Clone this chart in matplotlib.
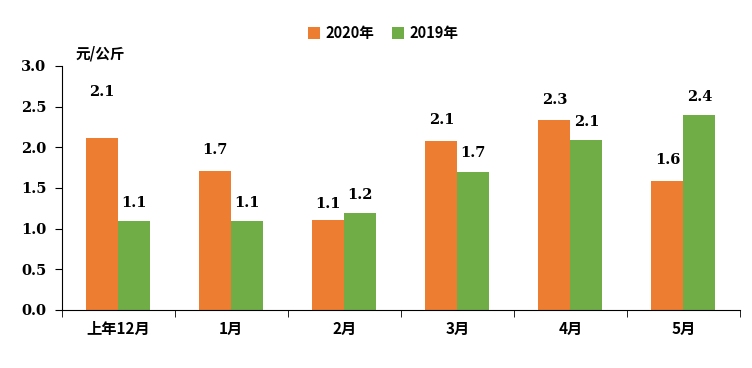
import matplotlib.pyplot as plt
import numpy as np

plt.rcParams['font.family'] = ['Noto Sans CJK SC', 'DejaVu Sans']

months = ['上年12月', '1月', '2月', '3月', '4月', '5月']
price_2020 = [2.11, 1.71, 1.11, 2.08, 2.34, 1.58]
price_2019 = [1.09, 1.09, 1.19, 1.70, 2.09, 2.39]
labels_2020 = ['2.1', '1.7', '1.1', '2.1', '2.3', '1.6']
labels_2019 = ['1.1', '1.1', '1.2', '1.7', '2.1', '2.4']

orange = '#ED7D31'
green = '#70AD47'

fig = plt.figure(figsize=(7.52, 3.68), dpi=100)
ax = fig.add_axes([0.082, 0.158, 0.902, 0.663])

x = np.arange(len(months))
w = 0.283
b1 = ax.bar(x - w/2, price_2020, w, color=orange, label='2020年')
b2 = ax.bar(x + w/2, price_2019, w, color=green, label='2019年')

numfont = dict(family='DejaVu Serif', fontsize=10.5, fontweight='bold')
# first label sits higher in the original
offs_2020 = [28, 10, 6, 10, 9, 10]
for i in range(len(months)):
    ax.annotate(labels_2020[i], (x[i] - w/2, price_2020[i]), xytext=(0, offs_2020[i]),
                textcoords='offset points', ha='center', va='bottom', **numfont)
    ax.annotate(labels_2019[i], (x[i] + w/2, price_2019[i]), xytext=(0, 8),
                textcoords='offset points', ha='center', va='bottom', **numfont)

ax.set_xlim(-0.5, len(months) - 0.5)
ax.set_ylim(0, 3.0)
ax.set_yticks(np.arange(0, 3.01, 0.5))
ax.set_yticklabels(['%.1f' % v for v in np.arange(0, 3.01, 0.5)], **numfont)
ax.set_xticks(x)
ax.set_xticklabels(months, fontsize=11, fontweight='bold')
ax.set_xticks(np.arange(-0.5, len(months)), minor=True)
ax.tick_params(axis='x', which='major', length=0, pad=8)
ax.tick_params(axis='x', which='minor', length=5, direction='out')
ax.tick_params(axis='y', length=5, direction='out', pad=6)
for s in ['top', 'right']:
    ax.spines[s].set_visible(False)

fig.text(0.1, 0.855, '元/公斤', fontsize=10.5, fontweight='bold', ha='left', va='center')
fig.legend(handles=[b1, b2], loc='center', bbox_to_anchor=(0.51, 0.91), ncol=2,
           frameon=False, prop={'weight': 'bold', 'size': 10.5},
           handlelength=0.8, handleheight=0.8, columnspacing=1.2, handletextpad=0.4)

fig.savefig('out.png', dpi=100)
